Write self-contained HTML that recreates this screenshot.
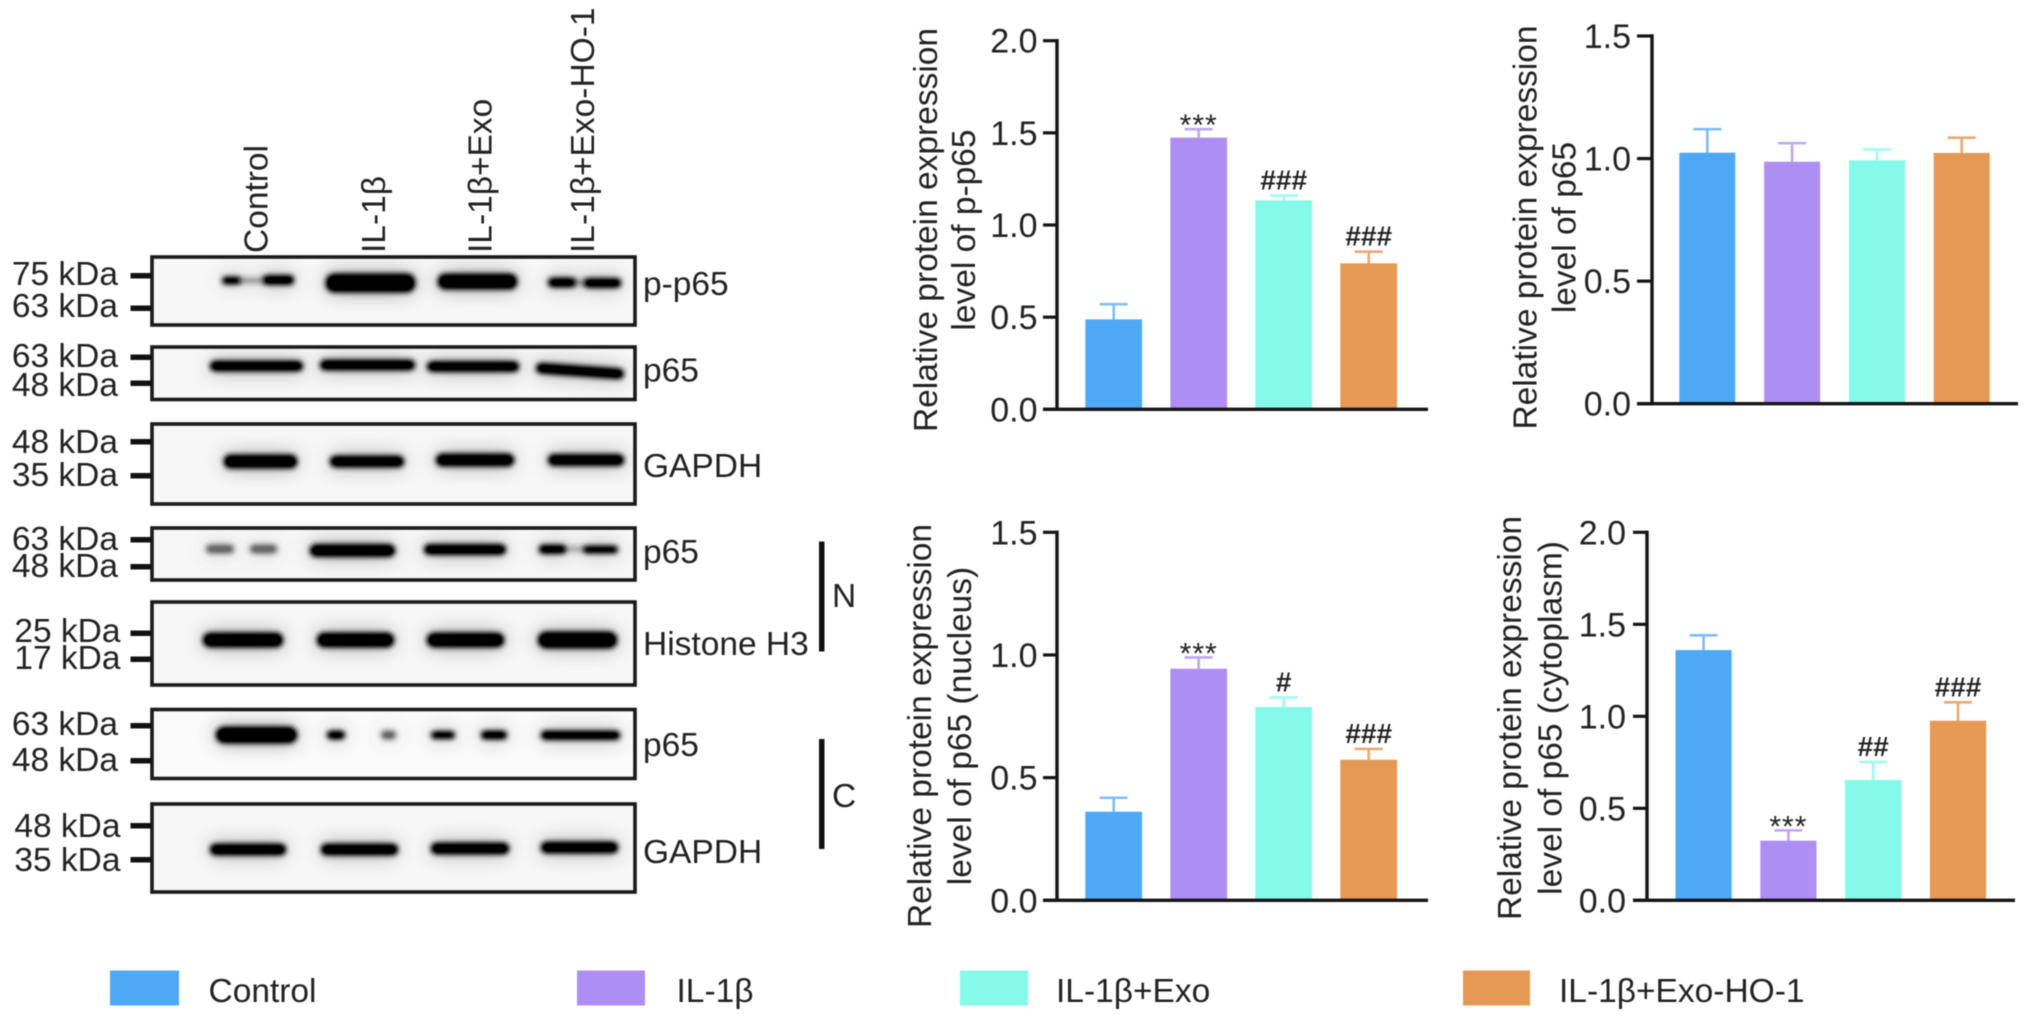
<!DOCTYPE html>
<html lang="en">
<head>
<meta charset="utf-8">
<title>p65 western blots and relative protein expression</title>
<style>
html,body{margin:0;padding:0;background:#fff;width:2032px;height:1023px;overflow:hidden}
svg{display:block;filter:blur(.55px)}
text{font-family:"Liberation Sans",Arial,sans-serif;font-size:33.5px;fill:#222}
.band{fill:#030303}
.faint{fill:#6a6a6a}
.bridge{fill:#222;opacity:.4}
.frame{fill:none;stroke:#1a1a1a;stroke-width:3.6}
.gel{fill:#f7f7f7}
.mk{fill:#111}
</style>
</head>
<body>
<svg id="figure" width="2032" height="1023" viewBox="0 0 2032 1023" xmlns="http://www.w3.org/2000/svg">
<defs>
  <filter id="bandBlur" filterUnits="userSpaceOnUse" x="100" y="200" width="600" height="750">
    <feGaussianBlur in="SourceGraphic" stdDeviation="10" result="wide"/>
    <feComponentTransfer in="wide" result="halo"><feFuncA type="linear" slope="0.42"/></feComponentTransfer>
    <feGaussianBlur in="SourceGraphic" stdDeviation="2.8" result="soft"/>
    <feComponentTransfer in="soft" result="core"><feFuncA type="linear" slope="1.3"/></feComponentTransfer>
    <feMerge><feMergeNode in="halo"/><feMergeNode in="core"/></feMerge>
  </filter>
  <clipPath id="clip-1"><rect x="152" y="257" width="483" height="68"/></clipPath>
  <clipPath id="clip-2"><rect x="152" y="347" width="483" height="52.5"/></clipPath>
  <clipPath id="clip-3"><rect x="152" y="424" width="483" height="80"/></clipPath>
  <clipPath id="clip-4"><rect x="152" y="528" width="483" height="52"/></clipPath>
  <clipPath id="clip-5"><rect x="152" y="602" width="483" height="83"/></clipPath>
  <clipPath id="clip-6"><rect x="152" y="709.5" width="483" height="69"/></clipPath>
  <clipPath id="clip-7"><rect x="152" y="804" width="483" height="88"/></clipPath>
</defs>
<rect width="2032" height="1023" fill="#fff"/>

<g>
  <text transform="translate(267.5,253) rotate(-90)">Control</text>
  <text transform="translate(385,253) rotate(-90)">IL-1β</text>
  <text transform="translate(491.5,253) rotate(-90)">IL-1β+Exo</text>
  <text transform="translate(594,253) rotate(-90)">IL-1β+Exo-HO-1</text>
</g>

<g>
  <rect class="gel" x="152" y="257" width="483" height="68"/>
  <g clip-path="url(#clip-1)"><g filter="url(#bandBlur)">
    <rect class="band" x="222" y="277" width="19" height="7" rx="3.5"/>
    <rect class="bridge" x="238" y="278" width="28" height="5"/>
    <rect class="band" x="263" y="275.5" width="31" height="9" rx="4"/>
    <rect class="band" x="326" y="274" width="89" height="18" rx="8"/>
    <rect class="band" x="438" y="274" width="79" height="15" rx="7"/>
    <rect class="band" x="548" y="278" width="28" height="9" rx="4.5"/>
    <rect class="bridge" x="574" y="280" width="12" height="5"/>
    <rect class="band" x="584" y="278.5" width="37" height="9" rx="4"/>
  </g></g>
  <rect class="frame" x="152" y="257" width="483" height="68"/>
</g>
<g>
  <rect class="gel" x="152" y="347" width="483" height="52.5"/>
  <g clip-path="url(#clip-2)"><g filter="url(#bandBlur)">
    <rect class="band" x="210" y="361" width="93" height="10" rx="5"/>
    <rect class="band" x="320" y="360" width="95" height="10" rx="5"/>
    <rect class="band" x="427" y="361.5" width="92" height="10" rx="5"/>
    <rect class="band" x="536" y="366" width="88" height="10" rx="5" transform="rotate(4 580 371)"/>
  </g></g>
  <rect class="frame" x="152" y="347" width="483" height="52.5"/>
</g>
<g>
  <rect class="gel" x="152" y="424" width="483" height="80"/>
  <g clip-path="url(#clip-3)"><g filter="url(#bandBlur)">
    <rect class="band" x="224" y="455" width="73" height="13" rx="6"/>
    <rect class="band" x="330" y="456" width="74" height="11" rx="5.5"/>
    <rect class="band" x="436" y="454" width="78" height="12" rx="6"/>
    <rect class="band" x="548" y="454.5" width="76" height="11" rx="5.5"/>
  </g></g>
  <rect class="frame" x="152" y="424" width="483" height="80"/>
</g>
<g>
  <rect class="gel" x="152" y="528" width="483" height="52"/>
  <g clip-path="url(#clip-4)"><g filter="url(#bandBlur)">
    <rect class="faint" x="206" y="545" width="28" height="8" rx="4"/>
    <rect class="faint" x="250" y="545" width="27" height="8" rx="4"/>
    <rect class="band" x="310" y="544.5" width="85" height="12" rx="6"/>
    <rect class="band" x="424" y="544.5" width="82" height="10" rx="5"/>
    <rect class="band" x="539" y="545" width="27" height="8.5" rx="4"/>
    <rect class="bridge" x="564" y="547" width="22" height="4"/>
    <rect class="band" x="583" y="546" width="35" height="7" rx="3.5"/>
  </g></g>
  <rect class="frame" x="152" y="528" width="483" height="52"/>
</g>
<g>
  <rect class="gel" x="152" y="602" width="483" height="83"/>
  <g clip-path="url(#clip-5)"><g filter="url(#bandBlur)">
    <rect class="band" x="203" y="633" width="80" height="14" rx="7"/>
    <rect class="band" x="317" y="633" width="77" height="14" rx="7"/>
    <rect class="band" x="427" y="633" width="77" height="14" rx="7"/>
    <rect class="band" x="538" y="632" width="79" height="16" rx="8"/>
  </g></g>
  <rect class="frame" x="152" y="602" width="483" height="83"/>
</g>
<g>
  <rect class="gel" x="152" y="709.5" width="483" height="69" style="fill:#fafafa"/>
  <g clip-path="url(#clip-6)"><g filter="url(#bandBlur)">
    <rect class="band" x="216" y="727" width="81" height="16" rx="8"/>
    <rect class="band" x="327" y="731" width="18" height="8" rx="4"/>
    <rect class="faint" x="381" y="731" width="15" height="8" rx="4"/>
    <rect class="band" x="431" y="731.5" width="24" height="7" rx="3.5"/>
    <rect class="band" x="481" y="731" width="26" height="8" rx="4"/>
    <rect class="band" x="541" y="731" width="79" height="8.5" rx="4"/>
  </g></g>
  <rect class="frame" x="152" y="709.5" width="483" height="69"/>
</g>
<g>
  <rect class="gel" x="152" y="804" width="483" height="88"/>
  <g clip-path="url(#clip-7)"><g filter="url(#bandBlur)">
    <rect class="band" x="210" y="844" width="76" height="11" rx="5.5"/>
    <rect class="band" x="321" y="844" width="77" height="11" rx="5.5"/>
    <rect class="band" x="431" y="843" width="78" height="11" rx="5.5"/>
    <rect class="band" x="541" y="842" width="77" height="11" rx="5.5"/>
  </g></g>
  <rect class="frame" x="152" y="804" width="483" height="88"/>
</g>

<g text-anchor="end">
  <text x="118" y="285">75 kDa</text>
  <text x="118" y="317">63 kDa</text>
  <text x="118" y="367">63 kDa</text>
  <text x="118" y="396">48 kDa</text>
  <text x="118" y="453">48 kDa</text>
  <text x="118" y="486">35 kDa</text>
  <text x="118" y="550">63 kDa</text>
  <text x="118" y="577">48 kDa</text>
  <text x="120.5" y="642">25 kDa</text>
  <text x="120.5" y="669">17 kDa</text>
  <text x="118" y="735">63 kDa</text>
  <text x="118" y="771">48 kDa</text>
  <text x="120.5" y="837">48 kDa</text>
  <text x="120.5" y="871">35 kDa</text>
</g>
<g class="mk">
  <rect x="130.5" y="273" width="21" height="5.5"/><rect x="130.5" y="305.5" width="21" height="5.5"/>
  <rect x="130.5" y="354.5" width="21" height="5.5"/><rect x="130.5" y="380.5" width="21" height="5.5"/>
  <rect x="130.5" y="439" width="21" height="5.5"/><rect x="130.5" y="473" width="21" height="5.5"/>
  <rect x="130.5" y="537" width="21" height="5.5"/><rect x="130.5" y="564" width="21" height="5.5"/>
  <rect x="130.5" y="630.5" width="21" height="5.5"/><rect x="130.5" y="656.5" width="21" height="5.5"/>
  <rect x="130.5" y="723" width="21" height="5.5"/><rect x="130.5" y="758" width="21" height="5.5"/>
  <rect x="130.5" y="823" width="21" height="5.5"/><rect x="130.5" y="857" width="21" height="5.5"/>
</g>
<g>
  <text x="643" y="295">p-p65</text>
  <text x="643" y="381.5">p65</text>
  <text x="643" y="477">GAPDH</text>
  <text x="643" y="563">p65</text>
  <text x="643" y="655">Histone H3</text>
  <text x="643" y="756">p65</text>
  <text x="643" y="863">GAPDH</text>
</g>
<g>
  <rect x="819" y="541.5" width="5.5" height="110" fill="#111"/>
  <text x="832" y="607">N</text>
  <rect x="819" y="739" width="5.5" height="110" fill="#111"/>
  <text x="832" y="807">C</text>
</g>

<g>
  <rect x="110" y="970.5" width="69" height="35" fill="#4fa8f6"/>
  <text x="208.5" y="1002">Control</text>
  <rect x="577" y="970.5" width="68" height="35" fill="#ad8ff3"/>
  <text x="676.5" y="1002">IL-1β</text>
  <rect x="960" y="970.5" width="68" height="35" fill="#85f9ea"/>
  <text x="1056" y="1002">IL-1β+Exo</text>
  <rect x="1463" y="970.5" width="67" height="35" fill="#e69855"/>
  <text x="1559" y="1002">IL-1β+Exo-HO-1</text>
</g>

<g id="charts"></g>
</svg>

<script>
const categories = ['control', 'il1b', 'il1b-exo', 'il1b-exo-ho1'];
const barColors = ['#4fa8f6', '#ad8ff3', '#85f9ea', '#e69855'];
const errorColors = ['#7dbdf7', '#bda6f4', '#9ffaed', '#e9a873'];

const ticksTwo = [0, 0.5, 1, 1.5, 2];
const ticksOneHalf = [0, 0.5, 1, 1.5];

const pP65Means = [0.488, 1.474, 1.134, 0.792];
const pP65Errors = [0.082, 0.046, 0.026, 0.063];
const pP65Marks = ['', '***', '###', '###'];

const p65Means = [1.024, 0.987, 0.993, 1.023];
const p65Errors = [0.096, 0.076, 0.044, 0.062];
const p65Marks = ['', '', '', ''];

const nucleusMeans = [0.361, 0.944, 0.788, 0.573];
const nucleusErrors = [0.057, 0.046, 0.039, 0.044];
const nucleusMarks = ['', '***', '#', '###'];

const cytoplasmMeans = [1.36, 0.324, 0.654, 0.976];
const cytoplasmErrors = [0.08, 0.056, 0.098, 0.1];
const cytoplasmMarks = ['', '***', '##', '###'];

const SVG_NS = 'http://www.w3.org/2000/svg';
const chartsRoot = document.getElementById('charts');

function make(tag, attrs, parent) {
  const el = document.createElementNS(SVG_NS, tag);
  Object.keys(attrs).forEach(function (k) { el.setAttribute(k, attrs[k]); });
  parent.appendChild(el);
  return el;
}

function drawChart(name, means, errors, marks, ticks, titles, g) {
  const group = make('g', {}, chartsRoot);
  
  

  const maxV = ticks[ticks.length - 1];
  const yScale = function (v) { return g.base - (v / maxV) * (g.base - g.top); };
  const barLeft = function (i) { return g.firstBar + i * g.step; };
  const barMid = function (i) { return barLeft(i) + g.barW / 2; };

  means.forEach(function (value, i) {
    const top = yScale(value);
    const upper = yScale(value + errors[i]);
    const mid = barMid(i);

    const stem = make('line', { x1: mid, x2: mid, y1: top, y2: upper, stroke: errorColors[i], 'stroke-width': 2.6 }, group);
    
    

    const cap = make('line', { x1: mid - 14, x2: mid + 14, y1: upper, y2: upper, stroke: errorColors[i], 'stroke-width': 2.6 }, group);
    
    

    const bar = make('rect', { x: barLeft(i), y: top, width: g.barW, height: g.base - top, fill: barColors[i] }, group);
    
    

    if (marks[i]) {
      const isStar = marks[i].charAt(0) === '*';
      const sig = make('text', {
        x: mid,
        y: isStar ? upper + 6 : upper - 6,
        'text-anchor': 'middle',
        style: isStar ? 'font-size:30px;letter-spacing:1px' : 'font-size:28px;font-weight:bold'
      }, group);
      sig.textContent = marks[i];
      
      
    }
  });

  const yAxis = make('line', { x1: g.axisX, x2: g.axisX, y1: g.top - 1.7, y2: g.base + 1.7, stroke: '#141414', 'stroke-width': 3.4 }, group);
  
  

  const xAxis = make('line', { x1: g.tickStart, x2: g.xEnd, y1: g.base, y2: g.base, stroke: '#141414', 'stroke-width': 3.4 }, group);
  
  

  ticks.forEach(function (t) {
    const y = yScale(t);
    const tick = make('line', { x1: g.tickStart, x2: g.axisX, y1: y, y2: y, stroke: '#141414', 'stroke-width': 3.2 }, group);
    
    

    const label = make('text', { x: g.labelEnd, y: y + 12, 'text-anchor': 'end', style: 'font-size:34px' }, group);
    label.textContent = t.toFixed(1);
    
    
  });

  titles.forEach(function (line, i) {
    const title = make('text', { transform: 'translate(' + g.titleX[i] + ',' + g.titleY + ') rotate(-90)', 'text-anchor': 'middle' }, group);
    title.textContent = line;
    
    
  });
}

drawChart('p-p65', pP65Means, pP65Errors, pP65Marks, ticksTwo,
  ['Relative protein expression', 'level of p-p65'],
  { axisX: 1057, xEnd: 1428, tickStart: 1043, top: 40.7, base: 409.3, firstBar: 1085.3, step: 85, barW: 56.8, labelEnd: 1037.5, titleX: [937, 975], titleY: 230 });

drawChart('p65', p65Means, p65Errors, p65Marks, ticksOneHalf,
  ['Relative protein expression', 'level of p65'],
  { axisX: 1652, xEnd: 2018, tickStart: 1637, top: 36, base: 403.7, firstBar: 1679.3, step: 84.8, barW: 56, labelEnd: 1631, titleX: [1536.5, 1575.5], titleY: 227.5 });

drawChart('p65-nucleus', nucleusMeans, nucleusErrors, nucleusMarks, ticksOneHalf,
  ['Relative protein expression', 'level of p65 (nucleus)'],
  { axisX: 1057, xEnd: 1428, tickStart: 1043, top: 532.3, base: 900.3, firstBar: 1085.3, step: 85, barW: 56.8, labelEnd: 1037.5, titleX: [931, 971], titleY: 726 });

drawChart('p65-cytoplasm', cytoplasmMeans, cytoplasmErrors, cytoplasmMarks, ticksTwo,
  ['Relative protein expression', 'level of p65 (cytoplasm)'],
  { axisX: 1647, xEnd: 2015, tickStart: 1633, top: 532.3, base: 900.3, firstBar: 1675.5, step: 84.8, barW: 56.2, labelEnd: 1626, titleX: [1521, 1561.5], titleY: 718 });
</script>
</body>
</html>
